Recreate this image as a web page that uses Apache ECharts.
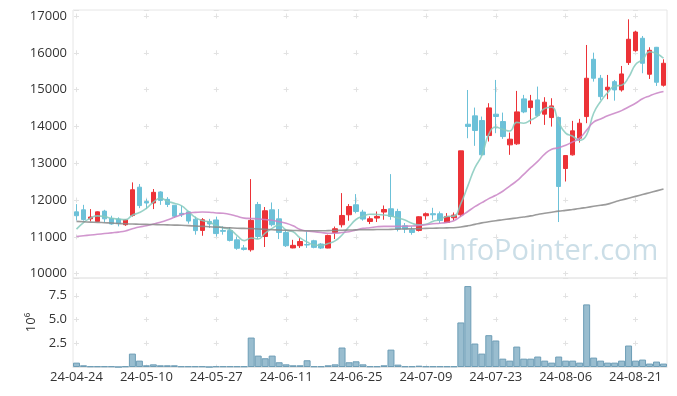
<!DOCTYPE html>
<html><head><meta charset="utf-8">
<script src="https://cdn.jsdelivr.net/npm/echarts/dist/echarts.min.js"></script>
<style>html,body{margin:0;padding:0;background:#fff}#c{width:677px;height:396px}</style>
</head><body><div id="c"></div>
<script>
const dates = ['24-04-24','24-04-25','24-04-26','24-04-29','24-04-30','24-05-02','24-05-03','24-05-07','24-05-08','24-05-09',
'24-05-10','24-05-13','24-05-14','24-05-16','24-05-17','24-05-20','24-05-21','24-05-22','24-05-23','24-05-24',
'24-05-27','24-05-28','24-05-29','24-05-30','24-05-31','24-06-03','24-06-04','24-06-05','24-06-07','24-06-10',
'24-06-11','24-06-12','24-06-13','24-06-14','24-06-17','24-06-18','24-06-19','24-06-20','24-06-21','24-06-24',
'24-06-25','24-06-26','24-06-27','24-06-28','24-07-01','24-07-02','24-07-03','24-07-04','24-07-05','24-07-08',
'24-07-09','24-07-10','24-07-11','24-07-12','24-07-15','24-07-16','24-07-17','24-07-18','24-07-19','24-07-22',
'24-07-23','24-07-24','24-07-25','24-07-26','24-07-29','24-07-30','24-07-31','24-08-01','24-08-02','24-08-05',
'24-08-06','24-08-07','24-08-08','24-08-09','24-08-12','24-08-13','24-08-14','24-08-16','24-08-19','24-08-20',
'24-08-21','24-08-22','24-08-23','24-08-26','24-08-27'];

const opens = [11680,11735,11490,11420,11700,11500,11485,11330,11580,12350,
11960,11920,12220,12020,11860,11640,11680,11480,11175,11420,
11460,11175,11170,10920,10700,10650,11880,11010,11735,11490,
11120,10700,10760,10790,10895,10806,10697,11120,11329,11601,
11872,11674,11419,11511,11674,11763,11690,11302,11194,11175,
11574,11630,11628,11392,11519,11601,14060,14287,14160,13752,
14333,14133,13500,13527,14748,14512,14721,14333,14241,14241,
12857,13228,13682,14268,15824,15309,14992,15217,14992,15735,
16058,16395,15418,16150,15119];
const closes = [11575,11470,11540,11680,11490,11350,11360,11460,12280,11850,
11920,12210,11990,11880,11560,11600,11430,11170,11465,11350,
11090,11150,10905,10690,10660,11450,11010,11710,11330,11120,
10760,10770,10875,10780,10715,10697,11039,11221,11582,11826,
11690,11484,11492,11555,11744,11555,11213,11213,11120,11546,
11628,11600,11446,11555,11592,13337,14000,13889,13230,14504,
14270,13725,13654,14395,14395,14694,14295,14658,14558,12369,
13209,13880,14088,15309,15309,14810,15065,14992,15426,16368,
16565,15716,16069,15200,15716];
const lows = [11445,11440,11420,11410,11390,11330,11285,11300,11550,11780,
11755,11755,11870,11810,11520,11540,11360,11060,11030,11240,
11010,11060,10876,10650,10630,10600,10940,10725,11285,10940,
10725,10690,10700,10700,10690,10670,10690,10940,11256,11438,
11640,11440,11348,11403,11465,11465,11148,11104,11058,11148,
11465,11465,11376,11380,11446,11540,13680,13473,13200,13590,
13817,13662,13229,13500,14360,14061,14268,14042,13996,11403,
12504,13209,13562,14088,15217,14721,14740,14700,14946,15670,
16030,15445,15290,15100,15082];
const highs = [11890,11870,11755,11690,11735,11575,11530,11480,12480,12435,
12035,12300,12240,12080,11860,11840,11700,11550,11510,11490,
11550,11285,11267,11010,10780,12570,11950,11810,11935,11755,
11195,10920,10968,11150,10920,10830,11060,11280,12189,11891,
12162,11736,11555,11690,11853,12705,11763,11376,11283,11560,
11663,11790,11690,11646,11663,13340,14990,14512,14268,14631,
15263,14376,13834,14965,14857,14857,15082,14794,14766,14268,
13220,14151,14205,16213,16004,15399,15399,15263,15643,16910,
16600,16457,16150,16160,15824];

// volume, in millions of shares (axis unit 10^6)
const volumes = [0.46,0.18,0.07,0.07,0.07,0.07,0,0.07,1.41,0.67,
0.18,0.28,0.18,0.18,0.18,0.07,0.07,0.07,0.07,0,
0.07,0.07,0.07,0.07,0.07,3.10,1.20,0.92,1.20,0.50,
0.28,0.18,0.18,0.71,0.07,0.07,0.18,0.28,2.05,0.50,
0.60,0.28,0.07,0.07,0.18,1.83,0.25,0.07,0.07,0.14,
0.07,0.07,0.07,0.07,0.07,4.69,8.52,2.47,1.41,3.35,
2.79,0.88,0.67,2.15,0.88,0.88,1.10,0.67,0.46,1.10,
0.67,0.67,0.46,6.59,0.99,0.67,0.46,0.46,0.67,2.26,
0.67,0.78,0.36,0.57,0.36];

const ma5 = [11210,11390,11510,11570,11551,11506,11484,11468,11588,11660,
11774,11944,12050,11970,11912,11848,11692,11528,11445,11403,
11301,11245,11192,11037,10899,10971,10943,11104,11232,11324,
11186,11138,10971,10861,10780,10767,10821,10890,11051,11273,
11472,11561,11615,11609,11593,11566,11512,11456,11369,11329,
11344,11421,11468,11555,11564,11906,12386,12875,13210,13792,
13979,13924,13877,14110,14088,14173,14287,14487,14520,14115,
13818,13735,13621,13771,14359,14679,14916,15097,15120,15332,
15683,15813,16029,15984,15853];
const ma20 = [11010,11030,11050,11070,11090,11110,11130,11160,11220,11270,
11300,11350,11400,11460,11530,11600,11650,11665,11675,11670,
11650,11640,11610,11560,11510,11500,11490,11470,11450,11410,
11370,11300,11200,11160,11140,11120,11100,11100,11120,11140,
11190,11230,11250,11275,11285,11285,11285,11290,11295,11310,
11330,11355,11370,11395,11440,11560,11690,11820,11930,12040,
12130,12240,12380,12520,12700,12880,13050,13250,13380,13420,
13490,13580,13680,13900,14120,14200,14290,14360,14430,14530,
14630,14750,14830,14900,14950];
const ma60 = [11420,11410,11400,11395,11385,11375,11365,11355,11350,11345,
11340,11335,11330,11325,11320,11315,11305,11295,11285,11275,
11265,11255,11245,11235,11230,11225,11215,11205,11195,11185,
11180,11175,11170,11165,11165,11165,11170,11175,11180,11185,
11190,11195,11195,11200,11200,11205,11210,11215,11220,11225,
11230,11235,11240,11245,11250,11270,11300,11340,11380,11410,
11440,11465,11490,11515,11540,11570,11610,11640,11670,11700,
11720,11745,11770,11800,11830,11860,11890,11950,12000,12050,
12100,12150,12200,12250,12300];

const candle = dates.map((d, i) => [opens[i], closes[i], lows[i], highs[i]]);

const FONT = 'Open Sans';
const crossColor = '#e2e2e2';
const chart = echarts.init(document.getElementById('c'), null, {renderer: 'canvas'});
chart.setOption({
  animation: false,
  backgroundColor: '#fff',
  textStyle: {fontFamily: FONT},
  graphic: [{
    type: 'text', left: 441, top: 237, silent: true, z: 0,
    style: {text: 'InfoPointer.com', fontFamily: FONT, fontSize: 29, fill: 'rgba(160,195,212,0.55)'}
  }],
  grid: [
    {left: 73, right: 10, top: 10, height: 268, show: true, borderColor: '#e6e6e6', borderWidth: 1},
    {left: 73, right: 10, top: 278, height: 89, show: true, borderColor: '#e6e6e6', borderWidth: 1}
  ],
  xAxis: [
    {type: 'category', gridIndex: 0, data: dates, boundaryGap: true,
     axisLine: {show: false}, axisTick: {show: false}, axisLabel: {show: false},
     splitLine: {show: true, interval: 9, alignWithLabel: true,
       lineStyle: {color: crossColor, width: 1, type: [5, 31.81], dashOffset: 33.31}}},
    {type: 'category', gridIndex: 1, data: dates, boundaryGap: true,
     axisLine: {show: true, lineStyle: {color: '#e6e6e6'}}, axisTick: {show: false},
     axisLabel: {interval: 9, color: '#333', fontSize: 13, margin: 4, fontFamily: FONT},
     splitLine: {show: true, interval: 9, alignWithLabel: true,
       lineStyle: {color: crossColor, width: 1, type: [5, 18.75], dashOffset: 8.49}}}
  ],
  yAxis: [
    {type: 'value', gridIndex: 0, min: 9883, max: 17163, splitNumber: 7, scale: true,
     axisLine: {show: false}, axisTick: {show: false},
     axisLabel: {color: '#333', fontSize: 13, margin: 6, fontFamily: FONT,
       formatter: v => (v % 1000 === 0 ? String(v) : '')},
     splitLine: {show: true, lineStyle: {color: crossColor, width: 1, type: [5, 64.88], dashOffset: 68.88}}},
    {type: 'value', gridIndex: 1, min: 0, max: 9.37, interval: 2.5,
     name: '10⁶', nameLocation: 'middle', nameGap: 34, nameRotate: 90,
     nameTextStyle: {color: '#333', fontSize: 13, fontFamily: FONT},
     axisLine: {show: false}, axisTick: {show: false},
     axisLabel: {color: '#333', fontSize: 13, margin: 6, fontFamily: FONT,
       formatter: v => (v > 0 && v < 9 ? v.toFixed(1) : '')},
     splitLine: {show: true, lineStyle: {color: crossColor, width: 1, type: [5, 64.88], dashOffset: 68.88}}}
  ],
  series: [
    {type: 'candlestick', xAxisIndex: 0, yAxisIndex: 0, data: candle, barWidth: '72%',
     itemStyle: {color: '#ec3237', color0: '#6cc1d8', borderColor: '#ec3237', borderColor0: '#6cc1d8', borderWidth: 1}, z: 3},
    {type: 'line', xAxisIndex: 0, yAxisIndex: 0, data: ma5, smooth: true, symbol: 'none',
     lineStyle: {color: '#86cabd', width: 1.6, opacity: 0.85}, z: 4},
    {type: 'line', xAxisIndex: 0, yAxisIndex: 0, data: ma20, smooth: true, symbol: 'none',
     lineStyle: {color: '#c984c6', width: 1.6, opacity: 0.85}, z: 4},
    {type: 'line', xAxisIndex: 0, yAxisIndex: 0, data: ma60, smooth: true, symbol: 'none',
     lineStyle: {color: '#8a8a8a', width: 1.6, opacity: 0.85}, z: 4},
    {type: 'bar', xAxisIndex: 1, yAxisIndex: 1, data: volumes, barWidth: '100%',
     itemStyle: {color: 'rgba(142,182,202,0.9)', borderColor: '#6d9db6', borderWidth: 1}}
  ]
});
</script></body></html>
